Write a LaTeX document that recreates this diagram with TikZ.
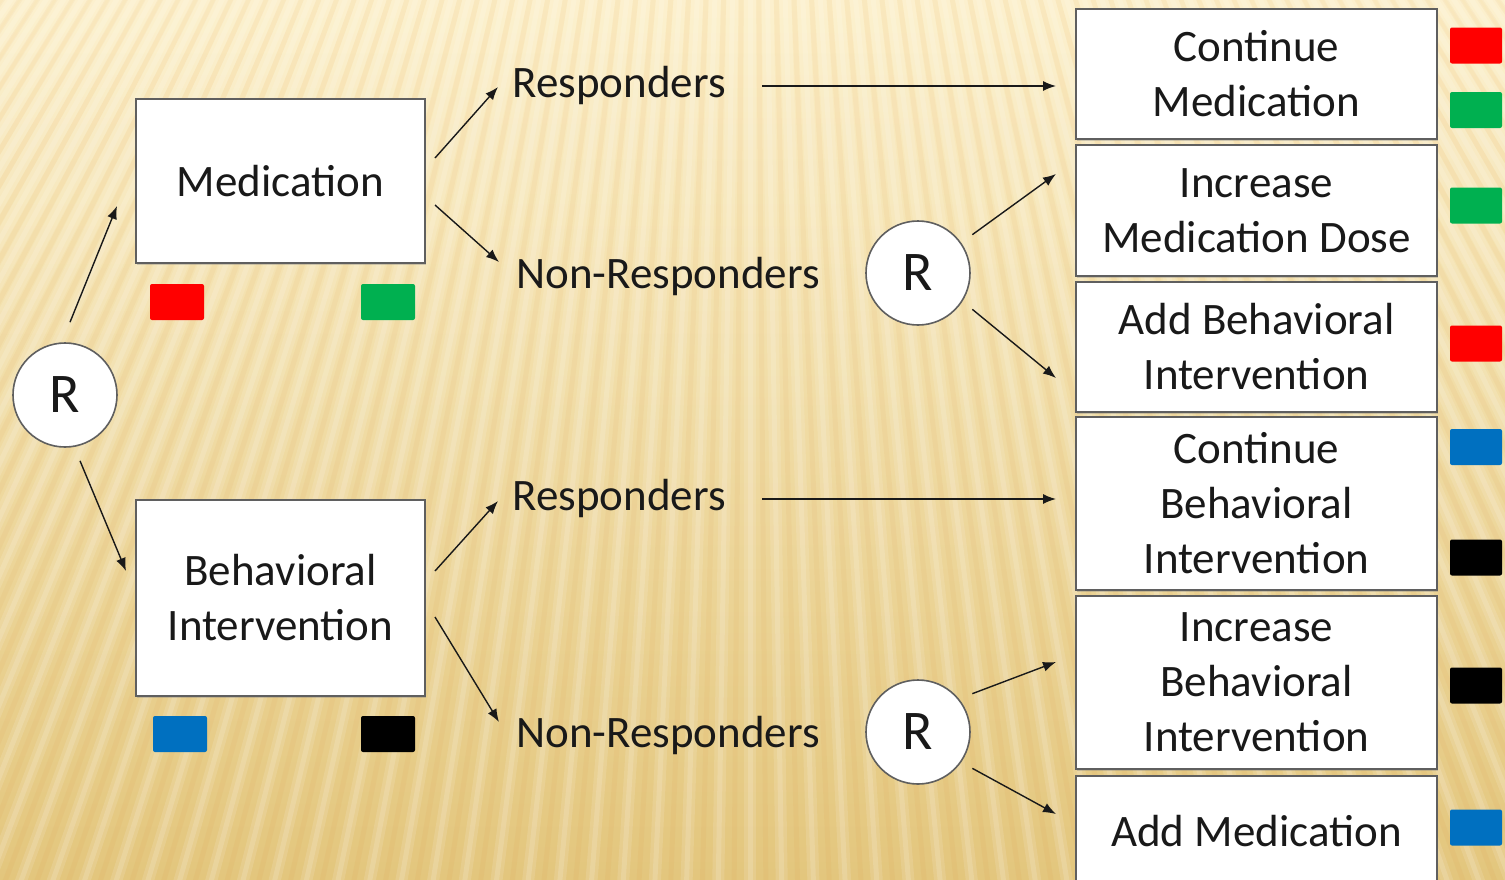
\documentclass[tikz,border=0pt]{standalone}
\usepackage{fontspec}
\setmainfont{Carlito}
\usetikzlibrary{arrows.meta,shadows}
\definecolor{bgtop}{HTML}{FCEFC8}
\definecolor{bgmid}{HTML}{F5E2AA}
\definecolor{bgbot}{HTML}{E3C67D}
\definecolor{boxline}{HTML}{5F5F5F}
\definecolor{tagred}{HTML}{FF0000}
\definecolor{taggreen}{HTML}{00B050}
\definecolor{tagblue}{HTML}{0070C0}
\begin{document}
\begin{tikzpicture}[x=0.5pt,y=-0.5pt,
  txt/.style={font=\fontsize{22.5}{27.5}\selectfont, text=black!90},
  box/.style={txt, draw=boxline, line width=1pt, fill=white, align=center, inner sep=0pt,
    drop shadow={shadow xshift=0.3pt, shadow yshift=-0.8pt, opacity=0.35}},
  rnode/.style={circle, draw=boxline, line width=0.8pt, fill=white, minimum size=52pt,
    inner sep=0pt, font=\fontsize{28}{30}\selectfont, text=black!90},
  lab/.style={txt, inner sep=0pt, anchor=base west},
  arr/.style={draw=black!90, line width=0.7pt, -{Latex[length=6.5pt,width=5pt]}},
  tag/.style={rounded corners=1pt, minimum width=27pt, minimum height=18pt, inner sep=0pt},
  rtag/.style={tag, minimum width=26pt},
]
\useasboundingbox (0,0) rectangle (1505,879);
\begin{scope}
  \clip (0,0) rectangle (1505,879);
  % warm background with soft fanned stripes
  \fill[top color=bgtop, middle color=bgmid, bottom color=bgbot] (0,0) rectangle (1505,879);
  \foreach \k in {-55,...,55} {
    \draw[white, opacity=0.12, line width=6pt] (750,-1100) -- ({750+\k*32},900);
    \draw[white, opacity=0.14, line width=2.5pt] (750,-1100) -- ({750+\k*32},900);
    \draw[brown!60!orange, opacity=0.06, line width=2.5pt] (750,-1100) -- ({750+\k*32+16},900);
  }

  % first stage
  \node[rnode] (r1) at (65,395) {R};
  \node[box, minimum width=144.5pt, minimum height=82pt] (med) at (280.5,181) {Medication};
  \node[box, minimum width=144.5pt, minimum height=98pt] (bi) at (280.5,598) {Behavioral\\Intervention};

  \node[tag, fill=tagred] (tmr) at (177,302) {};
  \node[tag, fill=taggreen] (tmg) at (388,302) {};
  \node[tag, fill=tagblue] (tbb) at (180,734) {};
  \node[tag, fill=black] (tbk) at (388,734) {};

  % response labels
  \node[lab] (resp1) at (512,97) {Responders};
  \node[lab] (non1) at (516,288) {Non-Responders};
  \node[lab] (resp2) at (512,510) {Responders};
  \node[lab] (non2) at (516,747) {Non-Responders};

  % second randomisation
  \node[rnode] (r2) at (918,273) {R};
  \node[rnode] (r3) at (918,732) {R};

  % second-stage treatments
  \node[box, minimum width=180.5pt, minimum height=65pt] (cm) at (1256.5,74) {Continue\\Medication};
  \node[box, minimum width=180.5pt, minimum height=65.5pt] (imd) at (1256.5,210.5) {Increase\\Medication Dose};
  \node[box, minimum width=180.5pt, minimum height=65pt] (abi) at (1256.5,347) {Add Behavioral\\Intervention};
  \node[box, minimum width=180.5pt, minimum height=86.5pt] (cbi) at (1256.5,503.5) {Continue\\Behavioral\\Intervention};
  \node[box, minimum width=180.5pt, minimum height=86.5pt] (ibi) at (1256.5,682.5) {Increase\\Behavioral\\Intervention};
  \node[box, minimum width=180.5pt, minimum height=55pt] (am) at (1256.5,831) {Add Medication};

  \node[rtag, fill=tagred] (q1) at (1476,45.5) {};
  \node[rtag, fill=taggreen] (q2) at (1476,110) {};
  \node[rtag, fill=taggreen] (q3) at (1476,205.5) {};
  \node[rtag, fill=tagred] (q4) at (1476,343.5) {};
  \node[rtag, fill=tagblue] (q5) at (1476,447) {};
  \node[rtag, fill=black] (q6) at (1476,557.5) {};
  \node[rtag, fill=black] (q7) at (1476,685.5) {};
  \node[rtag, fill=tagblue] (q8) at (1476,827.5) {};

  % connectors
  \draw[arr] ([shift={(5,-20)}]r1.north) -- ([shift={(-18,25)}]med.west);
  \draw[arr] ([shift={(15,13)}]r1.south) -- ([shift={(-9,-27)}]bi.west);
  \draw[arr] ([shift={(9,-23)}]med.east) -- ([shift={(-14,-10)}]resp1.base west);
  \draw[arr] ([shift={(9,24)}]med.east) -- ([shift={(-17,-26)}]non1.base west);
  \draw[arr] ([shift={(9,-27)}]bi.east) -- ([shift={(-14,-9)}]resp2.base west);
  \draw[arr] ([shift={(9,19)}]bi.east) -- ([shift={(-17,-25)}]non2.base west);
  \draw[arr] ([shift={(-313,12)}]cm.west) -- ([shift={(-19,12)}]cm.west);
  \draw[arr] ([shift={(-313,-4.5)}]cbi.west) -- ([shift={(-19,-4.5)}]cbi.west);
  \draw[arr] ([shift={(17,-1)}]r2.north east) -- ([shift={(-19,-36.5)}]imd.west);
  \draw[arr] ([shift={(17,-1)}]r2.south east) -- ([shift={(-19,31)}]abi.west);
  \draw[arr] ([shift={(17,-1)}]r3.north east) -- ([shift={(-19,-20.5)}]ibi.west);
  \draw[arr] ([shift={(17,-1)}]r3.south east) -- ([shift={(-19,-17)}]am.west);
\end{scope}
\end{tikzpicture}
\end{document}
